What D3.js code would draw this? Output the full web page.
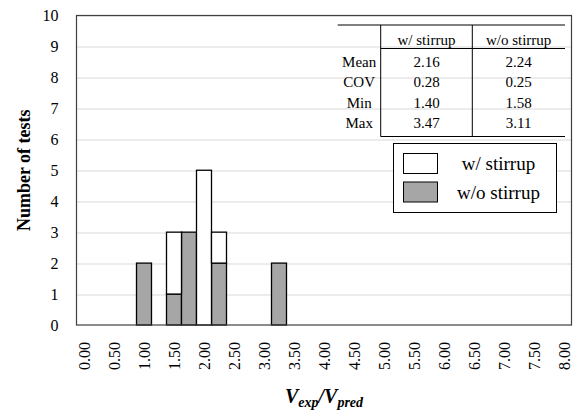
<!DOCTYPE html>
<html>
<head>
<meta charset="utf-8">
<script src="https://cdn.jsdelivr.net/npm/d3@7"></script>
<style>
  body { margin: 0; background: #fff; }
</style>
</head>
<body>
<div class="chart"></div>
<script>
// bins of the histogram (0.25 wide), only every other one gets a label
const bins = ["0.00","0.25","0.50","0.75","1.00","1.25","1.50","1.75","2.00","2.25","2.50","2.75",
  "3.00","3.25","3.50","3.75","4.00","4.25","4.50","4.75","5.00","5.25","5.50","5.75",
  "6.00","6.25","6.50","6.75","7.00","7.25","7.50","7.75","8.00"]
const tickLabels = ["0.00","0.50","1.00","1.50","2.00","2.50","3.00","3.50","4.00",
  "4.50","5.00","5.50","6.00","6.50","7.00","7.50","8.00"]
const yTicks = [0, 1, 2, 3, 4, 5, 6, 7, 8, 9, 10]

// counts per bin (gray sits at the bottom, white stacked on top)
const woStirrup = [0,0,0,0,2,0,1,3,0,2,0,0,0,2,0,0,0,0,0,0,0,0,0,0,0,0,0,0,0,0,0,0,0]
const wStirrup  = [0,0,0,0,0,0,2,0,5,1,0,0,0,0,0,0,0,0,0,0,0,0,0,0,0,0,0,0,0,0,0,0,0]

// statistics table
const statNames = ["Mean", "COV", "Min", "Max"]
const statW  = ["2.16", "0.28", "1.40", "3.47"]
const statWo = ["2.24", "0.25", "1.58", "3.11"]
const seriesNames = ["w/ stirrup", "w/o stirrup"]

const serif = "Liberation Serif, DejaVu Serif, serif"
const width = 584, height = 416
const margin = { top: 15.5, right: 12.5, bottom: 91, left: 76.5 }
const graphWidth = width - margin.left - margin.right
const graphHeight = height - margin.top - margin.bottom

const svg = d3.select(".chart").append("svg")
  .attr("width", width).attr("height", height)
  .attr("font-family", serif)

const graph = svg.append("g")
  .attr("transform", `translate(${margin.left}, ${margin.top})`)

const xScale = d3.scaleBand().domain(bins).range([0, graphWidth]).padding(0)
const yScale = d3.scaleLinear().domain([0, 10]).range([graphHeight, 0])

// gridlines
graph.selectAll(".grid").data(yTicks.slice(1)).enter().append("line")
  .attr("x1", 0).attr("x2", graphWidth)
  .attr("y1", d => Math.round(yScale(d)) + 0.5).attr("y2", d => Math.round(yScale(d)) + 0.5)
  .attr("stroke", "#d9d9d9").attr("stroke-width", 1)

// stacked bars
const table = bins.map((b, i) => ({ bin: b, wo: woStirrup[i], w: wStirrup[i] }))
const stacked = d3.stack().keys(["wo", "w"])(table)
const fills = { wo: "#a6a6a6", w: "#ffffff" }

stacked.forEach(layer => {
  graph.append("g").selectAll("rect")
    .data(layer.filter(d => d[1] > d[0]))
    .enter().append("rect")
    .attr("x", d => xScale(d.data.bin))
    .attr("width", xScale.bandwidth())
    .attr("y", d => yScale(d[1]))
    .attr("height", d => yScale(d[0]) - yScale(d[1]))
    .attr("fill", fills[layer.key])
    .attr("stroke", "#000").attr("stroke-width", 1.3)
})

// plot border
graph.append("rect")
  .attr("x", 0).attr("y", 0).attr("width", graphWidth).attr("height", graphHeight)
  .attr("fill", "none").attr("stroke", "#404040").attr("stroke-width", 1.2)

// y axis
const yAxis = d3.axisLeft(yScale).tickValues(yTicks).tickSize(0).tickPadding(18)
const yAxisGroup = graph.append("g").call(yAxis).attr("font-family", serif).attr("font-size", 16)
yAxisGroup.select(".domain").remove()

// x axis
const xAxis = d3.axisBottom(xScale).tickValues(tickLabels).tickSize(0)
const xAxisGroup = graph.append("g").attr("transform", `translate(0, ${graphHeight})`).call(xAxis)
  .attr("font-family", serif).attr("font-size", 16)
xAxisGroup.select(".domain").remove()
xAxisGroup.selectAll("text")
  .attr("transform", "rotate(-90)")
  .attr("text-anchor", "end")
  .attr("x", -17).attr("y", 0).attr("dy", "0.35em")

// axis titles
svg.append("text")
  .attr("transform", `translate(30, ${margin.top + graphHeight / 2}) rotate(-90)`)
  .attr("text-anchor", "middle")
  .attr("font-size", 18).attr("font-weight", "bold")
  .text("Number of tests")

const xt = svg.append("text")
  .attr("x", margin.left + graphWidth / 2).attr("y", 403)
  .attr("text-anchor", "middle")
  .attr("font-size", 20).attr("font-weight", "bold").attr("font-style", "italic")
xt.append("tspan").text("V")
xt.append("tspan").attr("dy", 4).attr("font-size", 14).text("exp")
xt.append("tspan").attr("dy", -4).text("/V")
xt.append("tspan").attr("dy", 4).attr("font-size", 14).text("pred")

// statistics table
const tbl = svg.append("g")
const colX = [337.7, 380.7, 472.3, 565]
const rowBase = [45, 66.5, 87, 107.5, 128]
const lineY = { top: 25, head: 48.5, bottom: 136.5 }

tbl.append("line").attr("x1", colX[0]).attr("x2", colX[3]).attr("y1", lineY.top).attr("y2", lineY.top)
  .attr("stroke", "#000").attr("stroke-width", 1)
tbl.append("line").attr("x1", colX[1]).attr("x2", colX[3]).attr("y1", lineY.head).attr("y2", lineY.head)
  .attr("stroke", "#000").attr("stroke-width", 1)
tbl.append("line").attr("x1", colX[1]).attr("x2", colX[3]).attr("y1", lineY.bottom).attr("y2", lineY.bottom)
  .attr("stroke", "#000").attr("stroke-width", 1)
;[colX[1], colX[2]].forEach(x => {
  tbl.append("line").attr("x1", x).attr("x2", x).attr("y1", lineY.top).attr("y2", lineY.bottom)
    .attr("stroke", "#000").attr("stroke-width", 1)
})

const cellText = (x, y, t) => tbl.append("text")
  .attr("x", x).attr("y", y).attr("text-anchor", "middle")
  .attr("font-size", 15).text(t)

seriesNames.forEach((s, i) => cellText((colX[i + 1] + colX[i + 2]) / 2, rowBase[0], s))
statNames.forEach((s, i) => {
  cellText((colX[0] + colX[1]) / 2, rowBase[i + 1], s)
  cellText((colX[1] + colX[2]) / 2, rowBase[i + 1], statW[i])
  cellText((colX[2] + colX[3]) / 2, rowBase[i + 1], statWo[i])
})

// legend
const legend = svg.append("g")
legend.append("rect").attr("x", 393.5).attr("y", 143.5).attr("width", 163).attr("height", 69)
  .attr("fill", "#fff").attr("stroke", "#000").attr("stroke-width", 1)
const legendFills = [fills.w, fills.wo]
seriesNames.forEach((s, i) => {
  legend.append("rect")
    .attr("x", 403.5).attr("y", 153.5 + i * 28.5).attr("width", 34).attr("height", 20)
    .attr("fill", legendFills[i]).attr("stroke", "#000").attr("stroke-width", 1)
  legend.append("text")
    .attr("x", 498.5).attr("y", 170 + i * 28.5).attr("text-anchor", "middle")
    .attr("font-size", 19).text(s)
})
</script>
</body>
</html>
